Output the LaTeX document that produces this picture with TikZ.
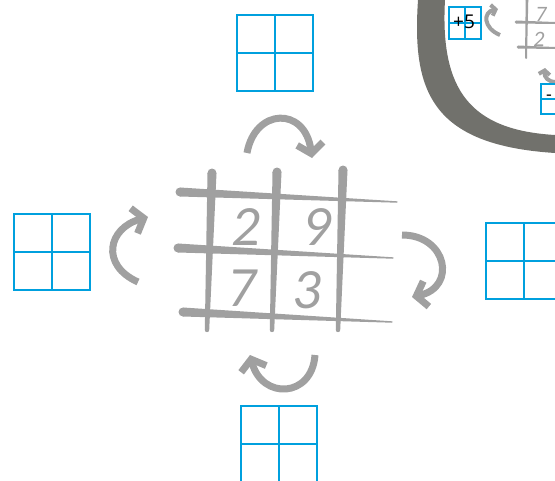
\documentclass[tikz,border=0pt]{standalone}
\usepackage{fontspec}
\newfontfamily\labelfont{Open Sans}
\newfontfamily\handfont{Carlito}
\usetikzlibrary{arrows.meta,calc}
\definecolor{gridblue}{RGB}{0,160,222}
\definecolor{pencil}{RGB}{160,160,160}
\definecolor{lens}{RGB}{113,113,108}

\tikzset{
  cellbox/.style={draw=gridblue, line width=1.6pt},
  sweep/.style={draw=pencil, line width=7pt,
    -{Straight Barb[length=10pt,width=26pt]}},
  smallsweep/.style={draw=pencil, line width=4pt,
    -{Straight Barb[length=4pt,width=11pt]}},
  digit/.style={text=pencil, inner sep=0pt,
    font=\handfont\fontsize{57}{57}\selectfont\itshape},
  smalldigit/.style={text=pencil, inner sep=0pt,
    font=\handfont\fontsize{22}{22}\selectfont\itshape},
}
% blue 2x2 box: x, y, size
\newcommand\boxgrid[3]{%
  \draw[cellbox] (#1,#2) rectangle ++(#3,#3)
    (#1+#3/2,#2) -- ++(0,#3) (#1,#2+#3/2) -- ++(#3,0);}
% tapered pencil stroke: from, to, half width at start, at end
\newcommand\brush[4]{%
  \fill[pencil] ($(#1)!#3!90:(#2)$) -- ($(#2)!#4!-90:(#1)$)
    -- ($(#2)!#4!90:(#1)$) -- ($(#1)!#3!-90:(#2)$) -- cycle;
  \fill[pencil] (#1) circle[radius=#3];
  \fill[pencil] (#2) circle[radius=#4];}

\begin{document}
\begin{tikzpicture}[x=1pt, y=-1pt]
\useasboundingbox (0,0) rectangle (555,480);
\clip (0,0) rectangle (555,480);
% the four empty boxes
\boxgrid{237}{15}{76}
\boxgrid{14}{214}{76}
\boxgrid{486}{223}{76}
\boxgrid{241}{406}{76}
% hand drawn grid
\brush{212,173}{207,330}{4.5pt}{2.2pt}
\brush{277,172}{272,330}{4.5pt}{2.2pt}
\brush{343,170}{338,330}{4.5pt}{2.2pt}
\brush{180,192}{397,202}{4.5pt}{0.7pt}
\brush{178,248}{393,258}{4.5pt}{0.7pt}
\brush{183,312}{392,322}{4.5pt}{0.7pt}
\node[digit] (two) at (246,227) {2};
\node[digit] (nine) at (317,227) {9};
\node[digit] (seven) at (242,288) {7};
\node[digit] (three) at (307,290) {3};
% turning arrows
\draw[sweep] (247,153) .. controls (255,108) and (305,106) .. (312,158);
\draw[sweep] (402,235) .. controls (447,235) and (457,287) .. (412,297);
\draw[sweep] (315,355) .. controls (312,398) and (262,400) .. (250,355);
\draw[sweep] (138,282) .. controls (100,265) and (108,228) .. (148,217);
% magnifier rim
\fill[lens] (418,0) .. controls (412,90) and (430,145) .. (555,153)
  -- (555,135) .. controls (470,130) and (440,90) .. (445,0) -- cycle;
% zoomed detail
\boxgrid{449}{7}{32}
\node[font=\labelfont\fontsize{19}{19}\selectfont, inner sep=0pt]
  (plusfive) at (464,22) {+5};
\draw[smallsweep] (500,35) .. controls (483,28) and (483,12) .. (498,9);
\brush{527,0}{526,58}{1.3pt}{1pt}
\brush{516,22}{555,23}{1.5pt}{1pt}
\brush{518,47}{555,48}{1.5pt}{1pt}
\node[smalldigit] (seventop) at (541,14) {7};
\node[smalldigit] (twolow) at (539,39) {2};
\draw[smallsweep] (556,82) .. controls (548,82) and (544,77) .. (545,68);
\boxgrid{541}{84}{30}
\node[font=\labelfont\fontsize{18}{18}\selectfont, inner sep=0pt]
  (minus) at (549,98) {-};
\end{tikzpicture}
\end{document}
